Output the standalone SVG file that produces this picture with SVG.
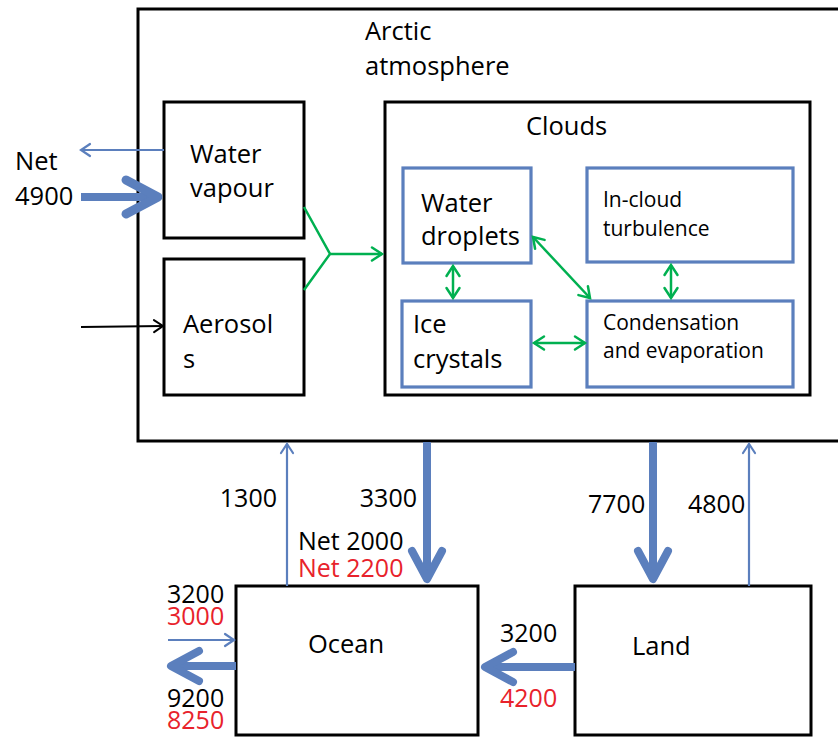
<svg xmlns="http://www.w3.org/2000/svg" width="838" height="738" viewBox="0 0 838 738">
  <style>
    text { font-family: "Open Sans", "Liberation Sans", sans-serif; fill: #000; }
    .big { font-size: 25.5px; }
    .num { font-size: 25px; }
    .small { font-size: 21px; }
    .red { fill: #E8222B; }
    .box { fill: #fff; stroke: #000; stroke-width: 3; }
    .cbox { fill: #fff; stroke: #5B7FBD; stroke-width: 3.2; }
    .thin { stroke: #5B7FBD; stroke-width: 2.2; fill: none; }
    .thick { stroke: #5B7FBD; stroke-width: 8; fill: none; }
    .blk { stroke: #000; stroke-width: 2; fill: none; }
    .grn { stroke: #00B050; stroke-width: 2.5; fill: none; }
  </style>
  <defs>
    <marker id="headThin" markerUnits="userSpaceOnUse" orient="auto" overflow="visible" markerWidth="20" markerHeight="20">
      <path d="M-9,-6 L0,0 L-9,6" fill="none" stroke="#5B7FBD" stroke-width="2.2" stroke-linecap="round"/>
    </marker>
    <marker id="headBlk" markerUnits="userSpaceOnUse" orient="auto" overflow="visible" markerWidth="20" markerHeight="20">
      <path d="M-9,-6 L0,0 L-9,6" fill="none" stroke="#000" stroke-width="2" stroke-linecap="round"/>
    </marker>
    <marker id="headGrn" markerUnits="userSpaceOnUse" orient="auto-start-reverse" overflow="visible" markerWidth="20" markerHeight="20">
      <path d="M-10,-6.5 L0,0 L-10,6.5" fill="none" stroke="#00B050" stroke-width="2.5" stroke-linecap="round"/>
    </marker>
    <marker id="headThick" markerUnits="userSpaceOnUse" orient="auto" overflow="visible" markerWidth="60" markerHeight="60">
      <path d="M-28,-15 L0,0 L-28,15" fill="none" stroke="#5B7FBD" stroke-width="8" stroke-linecap="round" stroke-linejoin="round"/>
    </marker>
    <marker id="headThickBig" markerUnits="userSpaceOnUse" orient="auto" overflow="visible" markerWidth="60" markerHeight="60">
      <path d="M-32,-17 L0,0 L-32,17" fill="none" stroke="#5B7FBD" stroke-width="9" stroke-linecap="round" stroke-linejoin="round"/>
    </marker>
  </defs>

  <!-- outer atmosphere box (runs off the right edge) -->
  <g id="atmosphere">
    <rect class="box" x="138" y="9" width="720" height="432"/>
    <text class="big" x="365" y="40">Arctic</text>
    <text class="big" x="365" y="75">atmosphere</text>
  </g>

  <g id="water-vapour">
    <rect class="box" x="164" y="102" width="140" height="136"/>
    <text class="big" x="190" y="163">Water</text>
    <text class="big" x="190" y="197">vapour</text>
  </g>

  <g id="aerosols">
    <rect class="box" x="164" y="259" width="140" height="136"/>
    <text class="big" x="183" y="333">Aerosol</text>
    <text class="big" x="183" y="368">s</text>
  </g>

  <g id="clouds">
    <rect class="box" x="385" y="102" width="425" height="293"/>
    <text class="big" x="526" y="135">Clouds</text>
  </g>

  <g id="water-droplets">
    <rect class="cbox" x="403" y="168" width="128" height="95"/>
    <text class="big" x="421" y="212">Water</text>
    <text class="big" x="421" y="245">droplets</text>
  </g>

  <g id="ice-crystals">
    <rect class="cbox" x="402" y="301" width="129" height="86"/>
    <text class="big" x="413" y="333">Ice</text>
    <text class="big" x="413" y="368">crystals</text>
  </g>

  <g id="turbulence">
    <rect class="cbox" x="587" y="168" width="206" height="94"/>
    <text class="small" x="603" y="207">In-cloud</text>
    <text class="small" x="603" y="236">turbulence</text>
  </g>

  <g id="condensation">
    <rect class="cbox" x="587" y="301" width="206" height="86"/>
    <text class="small" x="603" y="330">Condensation</text>
    <text class="small" x="603" y="358">and evaporation</text>
  </g>

  <g id="ocean">
    <rect class="box" x="236" y="586" width="242" height="149"/>
    <text class="big" x="308" y="653">Ocean</text>
  </g>

  <g id="land">
    <rect class="box" x="575" y="586" width="236" height="149"/>
    <text class="big" x="632" y="655">Land</text>
  </g>

  <g id="connectors">
    <!-- exchange at the left edge of the atmosphere -->
    <line class="thin" x1="164" y1="150" x2="81" y2="150" marker-end="url(#headThin)"/>
    <line class="thick" x1="81" y1="197" x2="158" y2="197" marker-end="url(#headThickBig)"/>
    <line class="blk" x1="81" y1="327" x2="163" y2="326" marker-end="url(#headBlk)"/>

    <!-- vapour and aerosols feeding the clouds -->
    <polyline class="grn" points="304,207 330,254 304,290"/>
    <line class="grn" x1="330" y1="254" x2="382" y2="254" marker-end="url(#headGrn)"/>

    <!-- in-cloud exchanges -->
    <line class="grn" x1="453" y1="266" x2="453" y2="298" marker-start="url(#headGrn)" marker-end="url(#headGrn)"/>
    <line class="grn" x1="533" y1="237" x2="590" y2="298" marker-start="url(#headGrn)" marker-end="url(#headGrn)"/>
    <line class="grn" x1="534" y1="343" x2="585" y2="343" marker-start="url(#headGrn)" marker-end="url(#headGrn)"/>
    <line class="grn" x1="671" y1="265" x2="671" y2="298" marker-start="url(#headGrn)" marker-end="url(#headGrn)"/>

    <!-- surface fluxes -->
    <line class="thin" x1="287" y1="586" x2="287" y2="444" marker-end="url(#headThin)"/>
    <line class="thick" x1="427" y1="442" x2="427" y2="579" marker-end="url(#headThick)"/>
    <line class="thick" x1="653" y1="442" x2="653" y2="579" marker-end="url(#headThick)"/>
    <line class="thin" x1="749" y1="586" x2="749" y2="444" marker-end="url(#headThin)"/>

    <!-- lateral fluxes -->
    <line class="thick" x1="575" y1="667" x2="485" y2="667" marker-end="url(#headThick)"/>
    <line class="thin" x1="168" y1="640" x2="234" y2="640" marker-end="url(#headThin)"/>
    <line class="thick" x1="236" y1="666" x2="171" y2="666" marker-end="url(#headThick)"/>
  </g>

  <g id="labels">
    <text class="big" x="15" y="170">Net</text>
    <text class="big" x="15" y="205">4900</text>
    <text class="num" x="277" y="507" text-anchor="end">1300</text>
    <text class="num" x="417" y="507" text-anchor="end">3300</text>
    <text class="num" x="298" y="550">Net 2000</text>
    <text class="num red" x="298" y="577">Net 2200</text>
    <text class="num" x="588" y="513">7700</text>
    <text class="num" x="688" y="513">4800</text>
    <text class="num" x="167" y="603">3200</text>
    <text class="num red" x="167" y="625">3000</text>
    <text class="num" x="167" y="707">9200</text>
    <text class="num red" x="167" y="729">8250</text>
    <text class="num" x="500" y="642">3200</text>
    <text class="num red" x="500" y="707">4200</text>
  </g>
</svg>
